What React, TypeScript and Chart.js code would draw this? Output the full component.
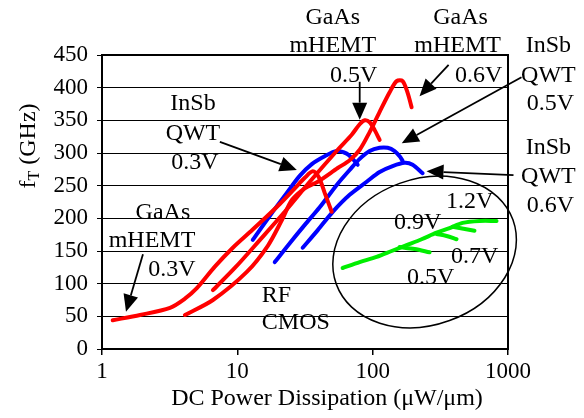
import React, { useEffect, useRef } from 'react';
import { Chart, registerables } from 'chart.js';

Chart.register(...registerables);

const FONT = "'Liberation Serif', 'Times New Roman', serif";

// Axis ticks
const xTickValues = [1, 10, 100, 1000];
const yTickStep = 50;
const yMin = 0;
const yMax = 450;

// GaAs mHEMT (red)
const gaas03X = [1.2, 1.91, 3.18, 4.1, 5.02, 6.82, 9.26, 12.4, 15.4, 20.6, 26.6, 31.5, 36.1, 40.0, 44.2, 49.8];
const gaas03Y = [44, 52, 63, 77, 93, 126, 155, 179, 197, 222, 246, 262, 272, 263, 239, 210];

const gaas05X = [6.6, 9.58, 14.7, 22.4, 34.3, 55.2, 70.0, 80.2, 87.3, 95.0, 103.5, 112.6];
const gaas05Y = [90, 124, 167, 210, 256, 305, 328, 344, 350, 347, 335, 320];

const gaas06X = [4.1, 6.6, 11.75, 16.8, 21.3, 25.3, 31.5, 39.3, 55.2, 67.6, 80.2, 95.0, 112.6, 133.5, 150.4, 166.5, 181.3, 194.0];
const gaas06Y = [52, 75, 118, 158, 197, 228, 246, 256, 277, 289, 305, 332, 363, 393, 410, 410, 392, 370];

// InSb QWT (blue)
const insb03X = [13.0, 17.4, 23.2, 28.9, 35.5, 44.2, 54.2, 64.3, 71.2, 77.5];
const insb03Y = [167, 204, 239, 265, 283, 295, 303, 299, 291, 282];

const insb05X = [18.9, 24.4, 31.5, 40.6, 55.2, 67.6, 80.2, 95.0, 112.6, 129.0, 145.3, 158.2, 166.5];
const insb05Y = [133, 162, 190, 217, 253, 274, 291, 303, 308, 308, 303, 295, 288];

const insb06X = [30.4, 39.3, 50.7, 67.6, 90.3, 112.6, 140.5, 172.3, 197.3, 233.9];
const insb06Y = [155, 182, 210, 236, 256, 271, 280, 285, 282, 269];

// RF CMOS (green)
const cmos12X = [60.0, 80.2, 107.0, 138.1, 178.2, 229.9, 296.8, 370.1, 461.6, 616.2, 822.7];
const cmos12Y = [124, 133, 141, 150, 159, 168, 178, 185, 193, 196, 196];

const cmos09X = [389.2, 469.2, 565.4];
const cmos09Y = [187, 184, 181];

const cmos07X = [296.8, 351.8, 416.8];
const cmos07Y = [176, 173, 168];

const cmos05X = [158.2, 204.2, 263.4];
const cmos05Y = [156, 153, 148];

// Annotations (data coordinates)
const labels = [
  { t: 'GaAs', x: 50.7, y: 507 },
  { t: 'mHEMT', x: 50.7, y: 464 },
  { t: '0.5V', x: 72.4, y: 419 },
  { t: 'GaAs', x: 446, y: 507 },
  { t: 'mHEMT', x: 424, y: 464 },
  { t: '0.6V', x: 606, y: 419 },
  { t: 'InSb', x: 1990, y: 464 },
  { t: 'QWT', x: 1990, y: 419 },
  { t: '0.5V', x: 2059, y: 375 },
  { t: 'InSb', x: 1990, y: 308 },
  { t: 'QWT', x: 1990, y: 263 },
  { t: '0.6V', x: 2059, y: 219 },
  { t: 'InSb', x: 4.7, y: 375 },
  { t: 'QWT', x: 4.7, y: 329 },
  { t: '0.3V', x: 4.86, y: 285 },
  { t: 'GaAs', x: 2.82, y: 208 },
  { t: 'mHEMT', x: 2.34, y: 165 },
  { t: '0.3V', x: 3.29, y: 121 },
  { t: '1.2V', x: 520, y: 225 },
  { t: '0.9V', x: 215, y: 194 },
  { t: '0.7V', x: 566, y: 141 },
  { t: '0.5V', x: 268, y: 109 },
];
const leftLabels = [
  { t: 'RF', x: 15.17, y: 81 },
  { t: 'CMOS', x: 15.17, y: 40 },
];
const arrows = [
  { x1: 2.007, y1: 145, x2: 1.504, y2: 57 },
  { x1: 7.43, y1: 317, x2: 27.5, y2: 274 },
  { x1: 80.2, y1: 409, x2: 80.2, y2: 351 },
  { x1: 364, y1: 435, x2: 222, y2: 387 },
  { x1: 1258, y1: 416, x2: 164, y2: 315 },
  { x1: 1098, y1: 266, x2: 250, y2: 272 },
];
const ellipseCenter = { x: 242, y: 148.5 };

const pts = (xs: number[], ys: number[]) => xs.map((x, i) => ({ x, y: ys[i] }));

const RED = '#ff0000';
const BLUE = '#0000ff';
const GREEN = '#00ee00';

const overlayPlugin = {
  id: 'overlay',
  afterDraw(chart: any) {
    const ctx = chart.ctx as CanvasRenderingContext2D;
    const xs = chart.scales.x;
    const ys = chart.scales.y;
    const ca = chart.chartArea;
    const px = (v: number) => xs.getPixelForValue(v);
    const py = (v: number) => ys.getPixelForValue(v);
    ctx.save();
    // box
    ctx.strokeStyle = '#000';
    ctx.lineWidth = 2;
    ctx.strokeRect(ca.left, ca.top, ca.right - ca.left, ca.bottom - ca.top);

    // ellipse
    ctx.lineWidth = 1.5;
    ctx.beginPath();
    ctx.ellipse(px(ellipseCenter.x), py(ellipseCenter.y), 94, 73, -20 * Math.PI / 180, 0, Math.PI * 2);
    ctx.stroke();

    // arrows
    ctx.fillStyle = '#000';
    ctx.lineWidth = 1.8;
    arrows.forEach((a) => {
      const x1 = px(a.x1), y1 = py(a.y1), x2 = px(a.x2), y2 = py(a.y2);
      const ang = Math.atan2(y2 - y1, x2 - x1);
      const len = 17, hw = 7.5;
      const bx = x2 - len * Math.cos(ang), by = y2 - len * Math.sin(ang);
      ctx.beginPath();
      ctx.moveTo(x1, y1);
      ctx.lineTo(bx, by);
      ctx.stroke();
      ctx.beginPath();
      ctx.moveTo(x2, y2);
      ctx.lineTo(bx + hw * Math.sin(ang), by - hw * Math.cos(ang));
      ctx.lineTo(bx - hw * Math.sin(ang), by + hw * Math.cos(ang));
      ctx.closePath();
      ctx.fill();
    });

    // labels
    ctx.font = `24px ${FONT}`;
    ctx.fillStyle = '#000';
    ctx.textBaseline = 'middle';
    ctx.textAlign = 'center';
    labels.forEach((l) => ctx.fillText(l.t, px(l.x), py(l.y)));
    ctx.textAlign = 'left';
    leftLabels.forEach((l) => ctx.fillText(l.t, px(l.x), py(l.y)));

    // x title
    ctx.textAlign = 'center';
    ctx.textBaseline = 'alphabetic';
    ctx.fillText('DC Power Dissipation (\u03bcW/\u03bcm)', 327, 405);

    // y title with subscript
    ctx.translate(35, 146);
    ctx.rotate(-Math.PI / 2);
    ctx.textAlign = 'left';
    const fBig = `24px ${FONT}`;
    const fSmall = `16px ${FONT}`;
    ctx.font = fBig;
    const wf = ctx.measureText('f').width;
    const wr = ctx.measureText(' (GHz)').width;
    ctx.font = fSmall;
    const wt = ctx.measureText('T').width;
    let cx = -(wf + wt + wr) / 2;
    ctx.font = fBig;
    ctx.fillText('f', cx, 0);
    cx += wf;
    ctx.font = fSmall;
    ctx.fillText('T', cx, 4);
    cx += wt;
    ctx.font = fBig;
    ctx.fillText(' (GHz)', cx, 0);
    ctx.restore();
  },
};

export default function App() {
  const ref = useRef<HTMLCanvasElement | null>(null);
  useEffect(() => {
    if (!ref.current) return;
    const ds = (xs: number[], ys: number[], color: string) => ({
      data: pts(xs, ys),
      borderColor: color,
      backgroundColor: color,
      borderWidth: 4,
      pointRadius: 0,
      showLine: true,
      tension: 0.3,
      borderCapStyle: 'round',
      borderJoinStyle: 'round',
      fill: false,
    });
    const chart = new Chart(ref.current, {
      type: 'scatter',
      data: {
        datasets: [
          ds(gaas03X, gaas03Y, RED),
          ds(gaas05X, gaas05Y, RED),
          ds(gaas06X, gaas06Y, RED),
          ds(insb03X, insb03Y, BLUE),
          ds(insb05X, insb05Y, BLUE),
          ds(insb06X, insb06Y, BLUE),
          ds(cmos12X, cmos12Y, GREEN),
          ds(cmos09X, cmos09Y, GREEN),
          ds(cmos07X, cmos07Y, GREEN),
          ds(cmos05X, cmos05Y, GREEN),
        ] as any,
      },
      options: {
        animation: false,
        responsive: false,
        devicePixelRatio: 1,
        layout: { padding: { left: 0, top: 55, right: 76, bottom: 0 } },
        plugins: { legend: { display: false }, tooltip: { enabled: false } },
        scales: {
          x: {
            type: 'logarithmic',
            min: 1,
            max: 1000,
            afterBuildTicks: (s: any) => {
              s.ticks = xTickValues.map((v) => ({ value: v }));
            },
            afterFit: (s: any) => {
              s.height = 69;
            },
            ticks: {
              callback: (v: any) => String(v),
              font: { family: FONT, size: 23 },
              color: '#000',
              maxRotation: 0,
              autoSkip: false,
              padding: 3,
            },
            grid: { drawOnChartArea: false, drawTicks: true, tickLength: 6, color: '#000', lineWidth: 1.5 },
            border: { display: true, color: '#000', width: 2 },
          },
          y: {
            type: 'linear',
            min: yMin,
            max: yMax,
            afterFit: (s: any) => {
              s.width = 102;
            },
            ticks: {
              stepSize: yTickStep,
              font: { family: FONT, size: 23 },
              color: '#000',
              padding: 9,
            },
            grid: { color: '#000', lineWidth: 1, tickLength: 5 },
            border: { display: true, color: '#000', width: 2 },
          },
        },
      } as any,
      plugins: [overlayPlugin],
    });
    return () => chart.destroy();
  }, []);
  return (
    <div style={{ position: 'fixed', left: 0, top: 0, width: 584, height: 418, background: '#fff' }}>
      <canvas ref={ref} width={584} height={418} style={{ width: 584, height: 418 }} />
    </div>
  );
}
